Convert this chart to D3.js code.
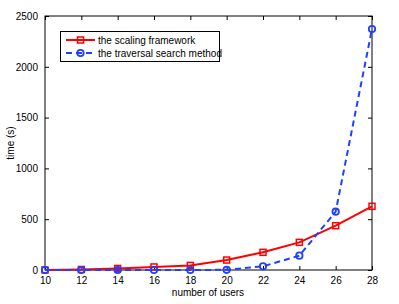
<!DOCTYPE html>
<html>
<head>
<script src="https://d3js.org/d3.v7.min.js"></script>
<style>
body { margin: 0; background: #fff; }
text { font-family: "Liberation Sans", Arial, sans-serif; }
</style>
</head>
<body>
<script>
var users = [10, 12, 14, 16, 18, 20, 22, 24, 26, 28];
var scaling = [0, 5, 15, 30, 45, 98, 174, 272, 436, 627];
var traversal = [0, 0, 0, 0, 0, 2, 36, 141, 574, 2372];
var xTicks = [10, 12, 14, 16, 18, 20, 22, 24, 26, 28];
var yTicks = [0, 500, 1000, 1500, 2000, 2500];

var w = 399, h = 304;
var pL = 45, pR = 372, pT = 16, pB = 270;

var svg = d3.select("body").append("svg")
  .attr("width", w)
  .attr("height", h);

var x = d3.scaleLinear().domain([10, 28]).range([pL, pR]);
var y = d3.scaleLinear().domain([0, 2500]).range([pB, pT]);

// box
svg.append("rect")
  .attr("x", pL).attr("y", pT)
  .attr("width", pR - pL).attr("height", pB - pT)
  .attr("fill", "none").attr("stroke", "#000").attr("stroke-width", 1);

var fs = "10px";
var fmt = d3.format("d");
var axB = d3.axisBottom(x).tickValues(xTicks).tickSizeInner(-4).tickSizeOuter(0).tickPadding(7).tickFormat(fmt);
var axT = d3.axisTop(x).tickValues(xTicks).tickSizeInner(-4).tickSizeOuter(0).tickFormat("");
var axL = d3.axisLeft(y).tickValues(yTicks).tickSizeInner(-4).tickSizeOuter(0).tickPadding(7).tickFormat(fmt);
var axR = d3.axisRight(y).tickValues(yTicks).tickSizeInner(-4).tickSizeOuter(0).tickFormat("");

[[axB, "translate(0," + pB + ")"], [axT, "translate(0," + pT + ")"],
 [axL, "translate(" + pL + ",0)"], [axR, "translate(" + pR + ",0)"]].forEach(function(a) {
  var g = svg.append("g").attr("transform", a[1]).call(a[0]);
  g.select(".domain").remove();
  g.selectAll("text").attr("font-size", fs).attr("fill", "#000")
    .style("font-family", "'Liberation Sans', Arial, sans-serif");
  g.selectAll("line").attr("stroke", "#000");
});

var line = d3.line()
  .x(function(d, i) { return x(users[i]); })
  .y(function(d) { return y(d); });

svg.append("path").datum(scaling)
  .attr("d", line).attr("fill", "none")
  .attr("stroke", "#ff0000").attr("stroke-width", 2);

svg.selectAll(".sq").data(scaling).enter().append("rect")
  .attr("x", function(d, i) { return x(users[i]) - 3; })
  .attr("y", function(d) { return y(d) - 3; })
  .attr("width", 6).attr("height", 6)
  .attr("fill", "none").attr("stroke", "#ff0000").attr("stroke-width", 1.5);

svg.append("path").datum(traversal)
  .attr("d", line).attr("fill", "none")
  .attr("stroke", "#2040ff").attr("stroke-width", 2)
  .attr("stroke-dasharray", "6,4");

svg.selectAll(".ci").data(traversal).enter().append("circle")
  .attr("cx", function(d, i) { return x(users[i]); })
  .attr("cy", function(d) { return y(d); })
  .attr("r", 3.2)
  .attr("fill", "none").attr("stroke", "#2040ff").attr("stroke-width", 1.8);

// legend
var lg = svg.append("g");
lg.append("rect").attr("x", 60.5).attr("y", 31.5).attr("width", 159).attr("height", 30)
  .attr("fill", "#fff").attr("stroke", "#000").attr("stroke-width", 1);
lg.append("line").attr("x1", 66).attr("x2", 95).attr("y1", 40).attr("y2", 40)
  .attr("stroke", "#ff0000").attr("stroke-width", 2);
lg.append("rect").attr("x", 77.5).attr("y", 37).attr("width", 6).attr("height", 6)
  .attr("fill", "none").attr("stroke", "#ff0000").attr("stroke-width", 1.5);
lg.append("text").attr("x", 98).attr("y", 43.5).attr("font-size", fs).text("the scaling framework");
lg.append("line").attr("x1", 66).attr("x2", 95).attr("y1", 53).attr("y2", 53)
  .attr("stroke", "#2040ff").attr("stroke-width", 2).attr("stroke-dasharray", "6,4");
lg.append("circle").attr("cx", 80.5).attr("cy", 53).attr("r", 3.2)
  .attr("fill", "none").attr("stroke", "#2040ff").attr("stroke-width", 1.8);
lg.append("text").attr("x", 98).attr("y", 56.5).attr("font-size", fs).text("the traversal search method");

svg.append("text").attr("x", 208).attr("y", 295.5)
  .attr("text-anchor", "middle").attr("font-size", fs).text("number of users");
svg.append("text").attr("transform", "translate(14," + ((pT + pB) / 2) + ") rotate(-90)")
  .attr("text-anchor", "middle").attr("font-size", fs).text("time (s)");
</script>
</body>
</html>
